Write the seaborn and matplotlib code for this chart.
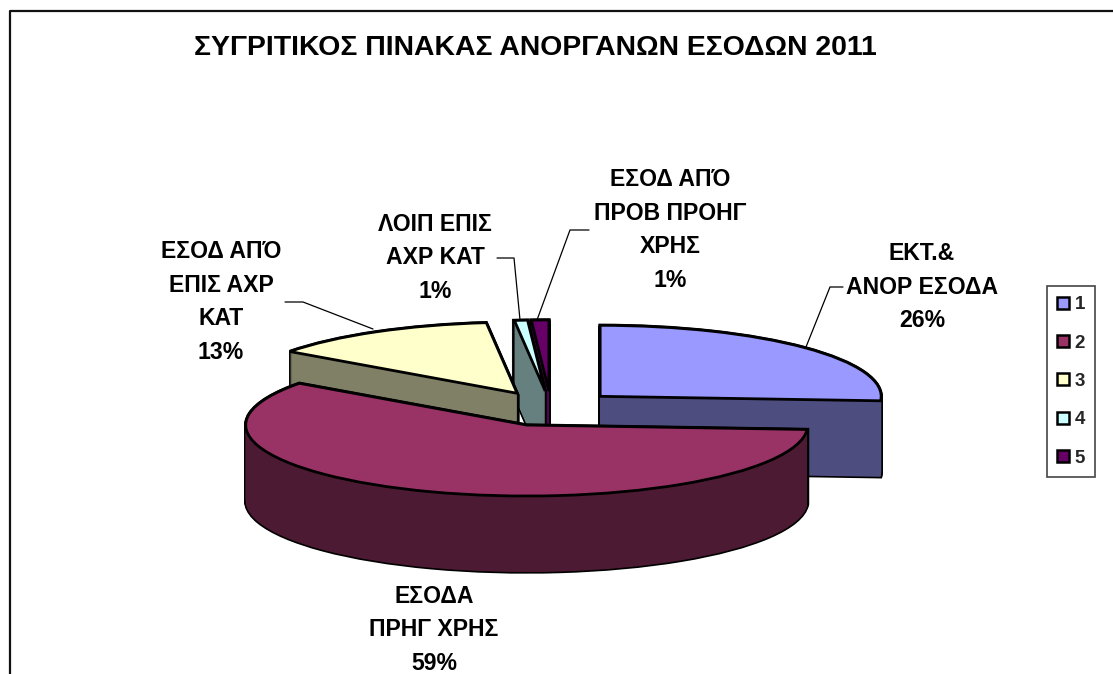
import matplotlib
matplotlib.use("Agg")
import matplotlib.pyplot as plt
import seaborn as sns
from matplotlib.lines import Line2D

W, H = 1113, 674

# Στοιχεία του γραφήματος
shares = [26, 59, 13.25, 0.75, 1]
legend_names = ["1", "2", "3", "4", "5"]
slice_labels = ["ΕΚΤ.&\nΑΝΟΡ ΕΣΟΔΑ\n26%", "ΕΣΟΔΑ\nΠΡΗΓ ΧΡΗΣ\n59%", "ΕΣΟΔ ΑΠΌ\nΕΠΙΣ ΑΧΡ\nΚΑΤ\n13%",
                "ΛΟΙΠ ΕΠΙΣ\nΑΧΡ ΚΑΤ\n1%", "ΕΣΟΔ ΑΠΌ\nΠΡΟΒ ΠΡΟΗΓ\nΧΡΗΣ\n1%"]
top_colors = ["#9999FF", "#993366", "#FFFFCC", "#CCFFFF", "#660066"]
side_colors = ["#4D4D80", "#4D1A33", "#808066", "#668080", "#550055"]
title = "ΣΥΓΡΙΤΙΚΟΣ ΠΙΝΑΚΑΣ ΑΝΟΡΓΑΝΩΝ ΕΣΟΔΩΝ 2011"

sns.set_theme(style="white")
plt.rcParams["font.family"] = ["Liberation Sans", "DejaVu Sans"]

fig = plt.figure(figsize=(W / 100, H / 100), dpi=100)
ax = fig.add_axes([0, 0, 1, 1])

# ελλειπτική πίτα: 1 μονάδα = 281 px οριζόντια, 71 px κάθετα
RX, RY = 281, 71
CX, CY = 551, 408
THICK = 76
draw_order = [4, 3, 2, 0, 1]
draw_order_z = [draw_order.index(i) * 10 for i in range(5)]


def px(x, y):
    return (x - CX) / RX, (CY - y) / RY


def pie_layer(center, colors, edge, lw, base):
    wedges, _ = ax.pie(shares, explode=[0.24, 0.255, 0.24, 0.24, 0.24], startangle=90,
                       counterclock=False, colors=colors, center=center, radius=1, frame=True,
                       wedgeprops=dict(edgecolor=edge, linewidth=lw))
    for w, z in zip(wedges, draw_order_z):
        w.set_zorder(z + base)
    return wedges


# πλάγια τοιχώματα: πρώτα μαύρο περίγραμμα, μετά το σκούρο χρώμα
for step in range(0, THICK + 1, 1):
    pie_layer((0, -step / RY), ["black"] * 5, "black", 2.4, 1)
for step in range(0, THICK + 1, 1):
    pie_layer((0, -step / RY), side_colors, "none", 0, 2)
top_wedges = pie_layer((0, 0), top_colors, "black", 2.0, 3)

ax.set_aspect("auto")
ax.set_xlim(-CX / RX, (W - CX) / RX)
ax.set_ylim((CY - H) / RY, CY / RY)
ax.axis("off")

# πλαίσιο (μόνο πάνω και αριστερά)
fig.add_artist(Line2D([9.5 / W, 9.5 / W, 1], [0, 1 - 10.5 / H, 1 - 10.5 / H],
                      transform=fig.transFigure, color="#111111", lw=1.6))

fig.text(535.5 / W, 1 - 48 / H, title, ha="center", va="center", fontsize=20.4,
         fontweight="bold", color="black")

label_pos = [(922, 287), (434, 630), (221, 302), (435, 258), (670, 230)]
for text, (x, y) in zip(slice_labels, label_pos):
    fig.text(x / W, 1 - y / H, text, ha="center", va="center", fontsize=16.6,
             fontweight="bold", color="black", linespacing=1.58)

# γραμμές οδηγοί
leaders = [[(843, 287), (830, 287), (806, 347)],
           [(285, 302), (303, 302), (373, 329)],
           [(497, 258), (514, 258), (520, 320)],
           [(589, 230), (570, 230), (537, 320)]]
for pts in leaders:
    xs, ys = zip(*[px(*p) for p in pts])
    ax.plot(xs, ys, color="black", lw=0.9, zorder=100)

leg = ax.legend(top_wedges, legend_names, loc="center", ncol=1,
                bbox_to_anchor=(1071 / W, 1 - 381.5 / H), bbox_transform=fig.transFigure,
                frameon=True, fancybox=False, edgecolor="#444444", framealpha=1,
                prop=dict(size=13.5, weight="bold"), handlelength=0.62, handleheight=0.62,
                labelspacing=1.14, handletextpad=0.3, borderpad=0.55, borderaxespad=0)
leg.get_frame().set_linewidth(1.2)
leg.set_zorder(200)
for h in leg.legend_handles:
    h.set_edgecolor("black")
    h.set_linewidth(1.8)

fig.savefig("out.png", dpi=100, facecolor="white")
